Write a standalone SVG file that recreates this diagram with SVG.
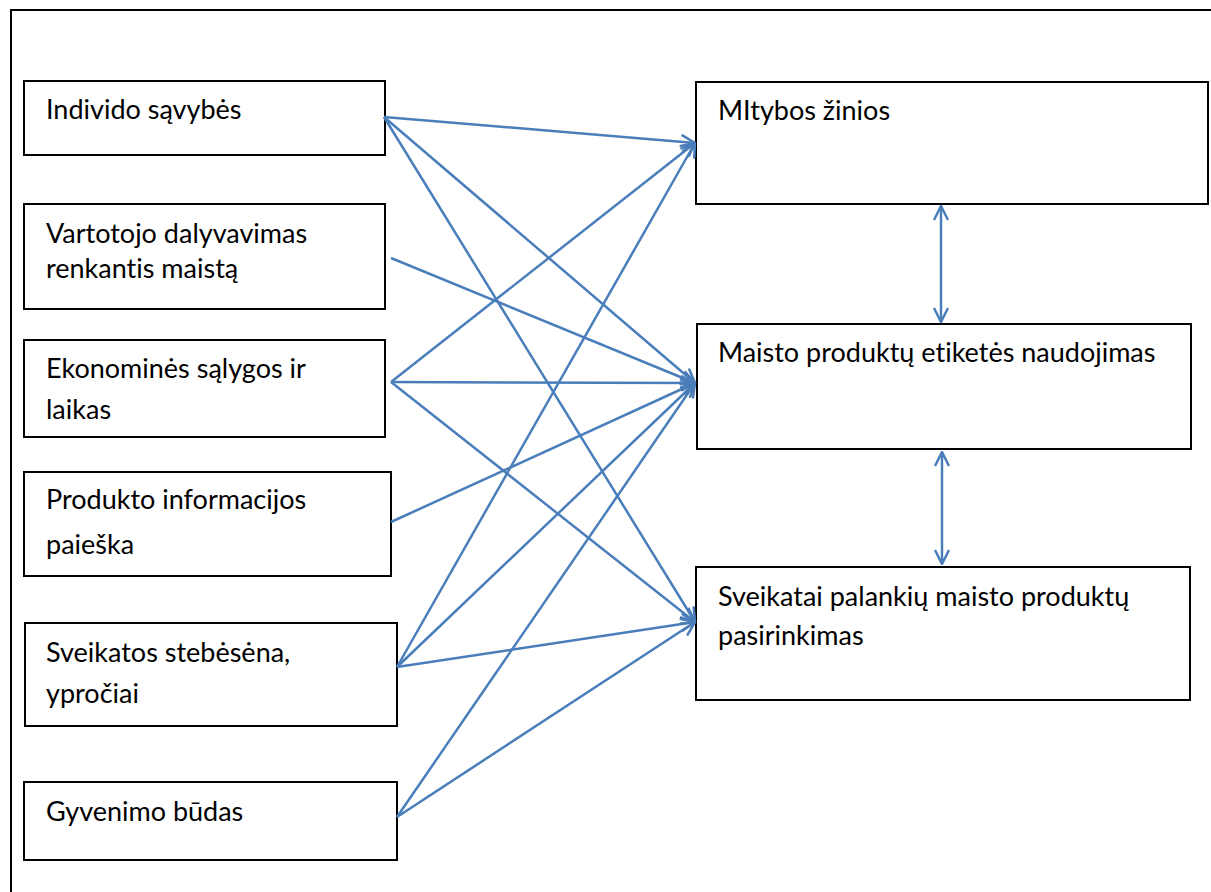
<svg xmlns="http://www.w3.org/2000/svg" width="1211" height="892" viewBox="0 0 1211 892">
<style>
.box{fill:#fff;stroke:#000;stroke-width:2}
.t{font-family:Lato,"Open Sans","Liberation Sans",sans-serif;font-size:27px;fill:#000;font-variant-ligatures:none}
.c{fill:none;stroke:#4A7EBB;stroke-width:2.5}
</style>
<defs>
<marker id="ah" markerUnits="userSpaceOnUse" viewBox="0 0 16 16" markerWidth="16" markerHeight="16" refX="15" refY="8" orient="auto-start-reverse">
<path d="M1,1 L15,8 L1,15" fill="none" stroke="#4A7EBB" stroke-width="2.5"/>
</marker>
</defs>
<rect x="0" y="0" width="1211" height="892" fill="#fff"/>
<rect x="11" y="10" width="1220" height="900" fill="none" stroke="#000" stroke-width="2"/>
<g id="n1"><rect class="box" x="24" y="81" width="361" height="74"/><text class="t" x="46" y="119">Individo sąvybės</text></g>
<g id="n2"><rect class="box" x="24" y="204" width="361" height="105"/><text class="t" x="46" y="243">Vartotojo dalyvavimas</text><text class="t" x="46" y="278">renkantis maistą</text></g>
<g id="n3"><rect class="box" x="24" y="340" width="361" height="97"/><text class="t" x="46" y="378">Ekonominės sąlygos ir</text><text class="t" x="46" y="419">laikas</text></g>
<g id="n4"><rect class="box" x="24" y="472" width="367" height="104"/><text class="t" x="46" y="509">Produkto informacijos</text><text class="t" x="46" y="554">paieška</text></g>
<g id="n5"><rect class="box" x="25" y="623" width="372" height="103"/><text class="t" x="46" y="662">Sveikatos stebėsėna,</text><text class="t" x="46" y="703">ypročiai</text></g>
<g id="n6"><rect class="box" x="24" y="782" width="373" height="78"/><text class="t" x="46" y="821">Gyvenimo būdas</text></g>
<g id="r1"><rect class="box" x="696" y="82" width="512" height="122"/><text class="t" x="718" y="120">MItybos žinios</text></g>
<g id="r2"><rect class="box" x="697" y="324" width="494" height="125"/><text class="t" x="718" y="362">Maisto produktų etiketės naudojimas</text></g>
<g id="r3"><rect class="box" x="696" y="567" width="494" height="133"/><text class="t" x="718" y="606">Sveikatai palankių maisto produktų</text><text class="t" x="718" y="645">pasirinkimas</text></g>
<g id="connectors">
<line class="c" x1="384" y1="117" x2="695" y2="143" marker-end="url(#ah)"/>
<line class="c" x1="384" y1="117" x2="695" y2="383" marker-end="url(#ah)"/>
<line class="c" x1="384" y1="117" x2="695" y2="622" marker-end="url(#ah)"/>
<line class="c" x1="391" y1="258" x2="695" y2="383" marker-end="url(#ah)"/>
<line class="c" x1="391" y1="382" x2="695" y2="143" marker-end="url(#ah)"/>
<line class="c" x1="391" y1="382" x2="695" y2="383" marker-end="url(#ah)"/>
<line class="c" x1="391" y1="382" x2="695" y2="622" marker-end="url(#ah)"/>
<line class="c" x1="391" y1="522" x2="695" y2="383" marker-end="url(#ah)"/>
<line class="c" x1="397" y1="667" x2="695" y2="143" marker-end="url(#ah)"/>
<line class="c" x1="397" y1="667" x2="695" y2="383" marker-end="url(#ah)"/>
<line class="c" x1="397" y1="667" x2="695" y2="622" marker-end="url(#ah)"/>
<line class="c" x1="397" y1="817" x2="695" y2="383" marker-end="url(#ah)"/>
<line class="c" x1="397" y1="817" x2="695" y2="622" marker-end="url(#ah)"/>
<line class="c" x1="941" y1="206" x2="941" y2="322" marker-start="url(#ah)" marker-end="url(#ah)"/>
<line class="c" x1="942" y1="452" x2="942" y2="564" marker-start="url(#ah)" marker-end="url(#ah)"/>
</g>
</svg>
